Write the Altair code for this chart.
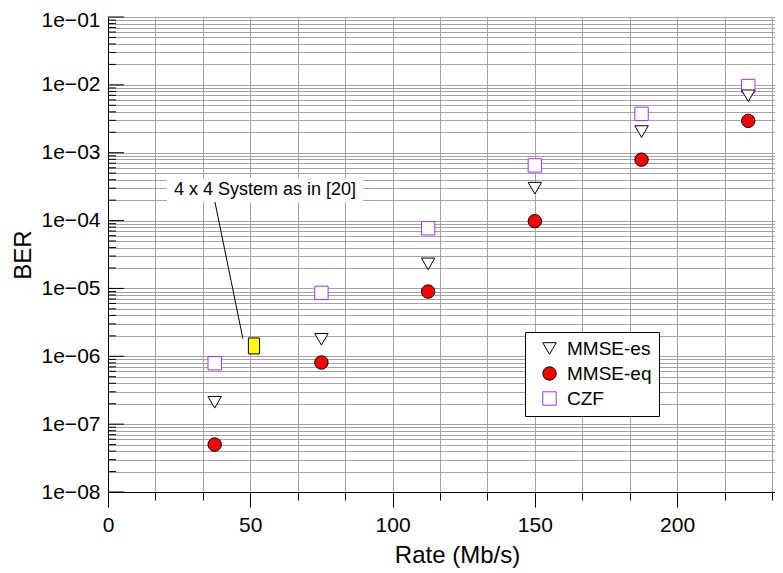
import altair as alt
import pandas as pd

# ---- data ----
rates = [37.5, 75, 112.5, 150, 187.5, 225]
ber_mmse_es = [2.1e-7, 1.78e-6, 2.3e-5, 3.0e-4, 2.05e-3, 6.9e-3]
ber_mmse_eq = [5.0e-8, 8.1e-7, 9.0e-6, 9.8e-5, 7.9e-4, 2.95e-3]
ber_czf = [7.9e-7, 8.6e-6, 7.7e-5, 6.5e-4, 3.74e-3, 9.6e-3]
series_names = ["MMSE-es", "MMSE-eq", "CZF"]

ref_rate = [51.3]
ref_ber = [1.42e-6]

annot_text = ["4 x 4 System as in [20]"]
annot_x = [55.2]
annot_y = [2.8e-4]
annot_box_x = [20.7, 89.6]
annot_box_y = [1.87e-4, 4.2e-4]
arrow_x = [37.6, 47.4]
arrow_y = [1.87e-4, 1.82e-6]

x_max = 234.4
x_ticks = [i * 25 / 3 for i in range(29)]
y_major = [10.0 ** k for k in range(-8, 0)]
y_minor = [m * 10.0 ** k for k in range(-8, -1) for m in range(2, 10)]
y_ticks = sorted(y_major + y_minor)

FONT = "Liberation Sans"
GRID = "#a3a3a3"

rows = []
for name, vals in zip(series_names, [ber_mmse_es, ber_mmse_eq, ber_czf]):
    for r, v in zip(rates, vals):
        rows.append({"rate": r, "ber": v, "series": name})
order = {"CZF": 0, "MMSE-es": 1, "MMSE-eq": 2}
df = pd.DataFrame(rows)
df["o"] = df["series"].map(order)
df = df.sort_values("o")

x_scale = alt.Scale(domain=[0, x_max], nice=False, zero=False)
y_scale = alt.Scale(type="log", domain=[1e-8, 1e-1], nice=False)

is50 = "abs(datum.value/50 - round(datum.value/50)) < 0.001"
isdec = "abs(log(datum.value)/LN10 - round(log(datum.value)/LN10)) < 1e-6"

x_axis = alt.Axis(
    values=x_ticks, grid=True, gridColor=GRID, gridWidth=1,
    labelExpr=f"{is50} ? '' + round(datum.value) : ''",
    tickSize={"condition": {"test": is50, "value": 15}, "value": 8},
    tickColor="black", domainColor="black", labelColor="black",
    labelFontSize=21, labelFont=FONT, labelPadding=7,
    labelOverlap=False, labelFlush=False,
    title="Rate (Mb/s)", titleFontSize=24, titleFont=FONT,
    titleFontWeight="normal", titleColor="black", titlePadding=8,
    titleX=349, titleAlign="center",
)
y_axis = alt.Axis(
    values=y_ticks, grid=True, gridColor=GRID, gridWidth=1,
    labelExpr=f"{isdec} ? '1e\u22120' + (-round(log(datum.value)/LN10)) : ''",
    labelOffset={"condition": {"test": "datum.value > 0.05", "value": 3}, "value": 0},
    ticks=False, domainColor="black", labelColor="black",
    labelFontSize=21, labelFont=FONT, labelPadding=8,
    labelOverlap=False, labelFlush=False,
    title="BER", titleFontSize=24, titleFont=FONT,
    titleFontWeight="normal", titleColor="black", titlePadding=6,
)

legend = alt.Legend(
    title=None, orient="none", legendX=417, legendY=315,
    fillColor="white", strokeColor="black", padding=7, symbolOffset=8,
    labelFontSize=19, labelFont=FONT, labelColor="black", rowPadding=5,
    symbolSize=180, symbolStrokeWidth=1, labelOffset=8, cornerRadius=0,
)

points = alt.Chart(df).mark_point(opacity=1, strokeWidth=1, size=180).encode(
    x=alt.X("rate:Q", scale=x_scale, axis=x_axis),
    y=alt.Y("ber:Q", scale=y_scale, axis=y_axis),
    shape=alt.Shape("series:N", scale=alt.Scale(domain=series_names, range=["triangle-down", "circle", "square"]), legend=legend),
    fill=alt.Fill("series:N", scale=alt.Scale(domain=series_names, range=["white", "#ff0000", "white"]), legend=legend),
    stroke=alt.Stroke("series:N", scale=alt.Scale(domain=series_names, range=["black", "black", "#9933ff"]), legend=legend),
    order=alt.Order("o:Q"),
)

# inward y-axis ticks
ymaj_df = pd.DataFrame({"ber": y_major})
ymin_df = pd.DataFrame({"ber": y_minor})
ymaj = alt.Chart(ymaj_df).mark_rule(color="black", strokeWidth=1).encode(
    y=alt.Y("ber:Q", scale=y_scale), x=alt.value(0), x2=alt.value(16))
ymin = alt.Chart(ymin_df).mark_rule(color="black", strokeWidth=1).encode(
    y=alt.Y("ber:Q", scale=y_scale), x=alt.value(0), x2=alt.value(8))

box_df = pd.DataFrame({"x": [annot_box_x[0]], "x2": [annot_box_x[1]], "y": [annot_box_y[0]], "y2": [annot_box_y[1]]})
box = alt.Chart(box_df).mark_rect(fill="white", strokeWidth=0).encode(
    x=alt.X("x:Q", scale=x_scale), x2="x2:Q", y=alt.Y("y:Q", scale=y_scale), y2="y2:Q")

txt_df = pd.DataFrame({"x": annot_x, "y": annot_y, "t": annot_text})
txt = alt.Chart(txt_df).mark_text(fontSize=18, font=FONT, color="black", align="center", baseline="middle").encode(
    x=alt.X("x:Q", scale=x_scale), y=alt.Y("y:Q", scale=y_scale), text="t:N")

arr_df = pd.DataFrame({"x": [arrow_x[0]], "x2": [arrow_x[1]], "y": [arrow_y[0]], "y2": [arrow_y[1]]})
arrow = alt.Chart(arr_df).mark_rule(color="black", strokeWidth=1).encode(
    x=alt.X("x:Q", scale=x_scale), x2="x2:Q", y=alt.Y("y:Q", scale=y_scale), y2="y2:Q")

ref_df = pd.DataFrame({"rate": ref_rate, "ber": ref_ber})
ref = alt.Chart(ref_df).mark_point(
    shape="M-0.7,-1H0.7V1H-0.7Z", filled=True, fill="#ffff00", stroke="black",
    strokeWidth=1, size=256, opacity=1).encode(
    x=alt.X("rate:Q", scale=x_scale), y=alt.Y("ber:Q", scale=y_scale))

chart = alt.layer(box, arrow, txt, ref, points, ymin, ymaj).properties(
    width=667, height=475,
    padding={"left": 100, "top": 9, "right": 0, "bottom": 80},
    autosize=alt.AutoSizeParams(type="none"),
).configure_view(strokeWidth=0).configure(font=FONT)

chart.save("out.html", embed_options={"renderer": "svg", "actions": False})
